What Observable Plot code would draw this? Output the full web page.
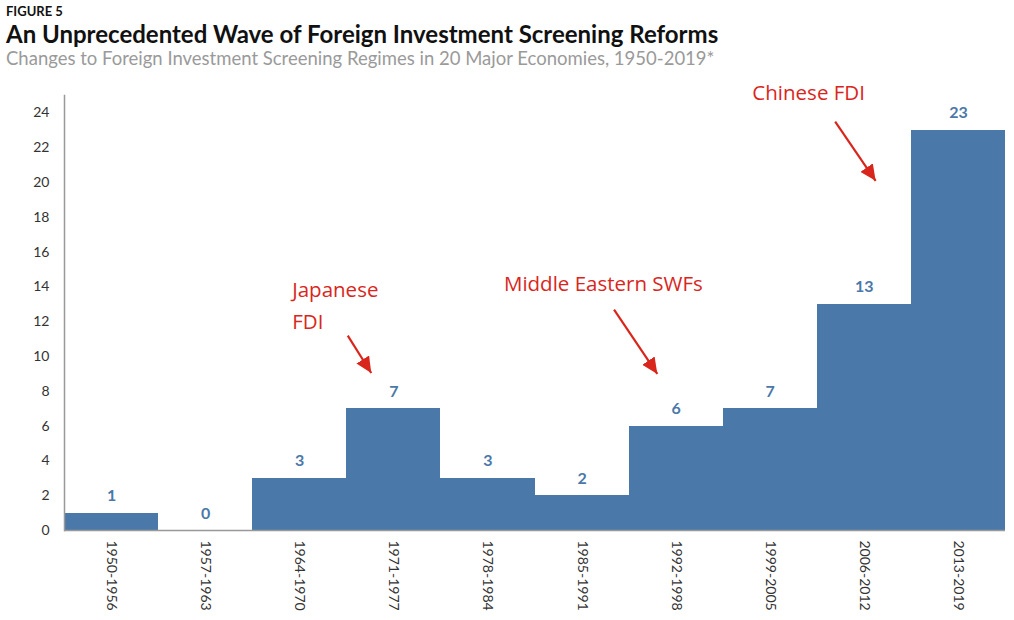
<!DOCTYPE html>
<html>
<head>
<meta charset="utf-8">
<script src="https://cdn.jsdelivr.net/npm/d3@7"></script>
<script src="https://cdn.jsdelivr.net/npm/@observablehq/plot@0.6"></script>
<style>
  html, body { margin: 0; padding: 0; background: #fff; }
  #header { position: relative; height: 70px; font-family: Lato, "Open Sans", sans-serif; }
  #fig { position: absolute; left: 6px; top: 3px; font-size: 13px; font-weight: 700; color: #111; }
  #title { position: absolute; left: 6px; top: 19px; font-size: 24px; font-weight: 700; color: #111; white-space: nowrap; }
  #subtitle { position: absolute; left: 6px; top: 47px; font-size: 18.5px; color: #9a9a9a; white-space: nowrap; }
  #chart svg { display: block; }
</style>
</head>
<body>
<div id="header">
  <div id="fig">FIGURE 5</div>
  <div id="title">An Unprecedented Wave of Foreign Investment Screening Reforms</div>
  <div id="subtitle">Changes to Foreign Investment Screening Regimes in 20 Major Economies, 1950-2019*</div>
</div>
<div id="chart"></div>
<script>
const periods = ["1950-1956","1957-1963","1964-1970","1971-1977","1978-1984","1985-1991","1992-1998","1999-2005","2006-2012","2013-2019"];
const counts = [1, 0, 3, 7, 3, 2, 6, 7, 13, 23];
const yTicks = [0,2,4,6,8,10,12,14,16,18,20,22,24];

// annotations in data coordinates (x = period index, y = count)
const annoLabels = ["Japanese\nFDI", "Middle Eastern SWFs", "Chinese FDI"];
const annoX = [2.42, 4.67, 7.31];
const annoY = [13.1, 14.35, 25.3];
const arrowFrom = [[3.01, 11.2], [5.84, 12.69], [8.19, 23.5]];
const arrowTo = [[3.26, 9.05], [6.30, 9.0], [8.62, 20.1]];

const bars = periods.map((p, i) => ({period: p, i, count: counts[i]}));
const annos = annoLabels.map((t, k) => ({text: t, x: annoX[k], y: annoY[k]}));
const arrows = arrowFrom.map((f, k) => ({x1: f[0], y1: f[1], x2: arrowTo[k][0], y2: arrowTo[k][1]}));

const BLUE = "#4a78a8";
const RED = "#d9261c";

const triHead = (color, context) => {
  const m = d3.create("svg:marker")
    .attr("viewBox", "-16 -7.5 17 15")
    .attr("markerWidth", 17)
    .attr("markerHeight", 15)
    .attr("markerUnits", "userSpaceOnUse")
    .attr("refX", 0).attr("refY", 0)
    .attr("orient", "auto");
  m.append("path").attr("d", "M-16,-7.5L0,0L-16,7.5Z").attr("fill", color).attr("stroke", "none");
  return m.node();
};

const chart = Plot.plot({
  width: 1014,
  height: 550,
  marginTop: 25,
  marginBottom: 90,
  marginLeft: 64,
  marginRight: 9,
  style: {fontFamily: "Lato, 'Open Sans', sans-serif", fontSize: "14px", color: "#333", background: "#fff"},
  x: {domain: [0, 10]},
  y: {domain: [0, 25]},
  marks: [
    Plot.rectY(bars, {x1: "i", x2: d => d.i + 1, y: "count", fill: BLUE, inset: 0, shapeRendering: "crispEdges"}),
    Plot.ruleY([0], {stroke: "#999", strokeWidth: 1.5}),
    Plot.frame({anchor: "left", stroke: "#999", strokeWidth: 1.5}),
    Plot.axisY({ticks: yTicks, tickSize: 0, tickPadding: 15, label: null, fontSize: 14}),
    Plot.axisX({ticks: d3.range(10).map(i => i + 0.5), tickFormat: d => periods[Math.floor(d)], tickRotate: 90, tickSize: 0, tickPadding: 10, label: null, fontSize: 14}),
    Plot.text(bars, {x: d => d.i + 0.5, y: "count", text: d => String(d.count), dy: -17, fill: BLUE, fontWeight: "bold", fontSize: 16}),
    Plot.text(annos, {x: "x", y: "y", text: "text", textAnchor: "start", lineAnchor: "middle", lineHeight: 1.55, fill: RED, fontSize: 20.5, fontFamily: "'Open Sans', Lato, sans-serif"}),
    Plot.link(arrows, {x1: "x1", y1: "y1", x2: "x2", y2: "y2", stroke: RED, strokeWidth: 2.2, markerEnd: triHead})
  ]
});
document.getElementById("chart").appendChild(chart);
</script>
</body>
</html>
